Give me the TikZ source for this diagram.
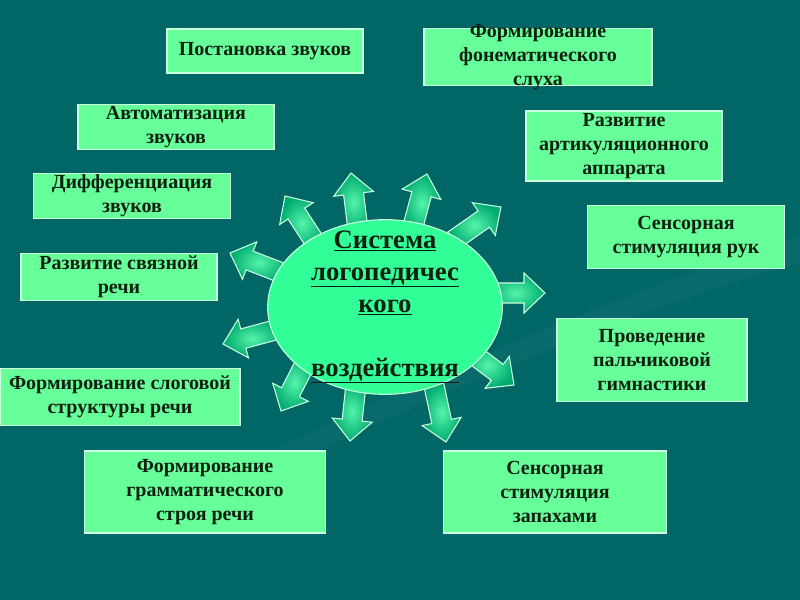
\documentclass[tikz,border=0pt]{standalone}
\usepackage{fontspec}
\setmainfont{Liberation Serif}
\usetikzlibrary{shapes.geometric}

\definecolor{bgteal}{HTML}{006666}
\definecolor{boxgreen}{HTML}{66FF99}
\definecolor{hubgreen}{HTML}{33FF99}
\definecolor{rimgreen}{HTML}{CCFFDD}
\definecolor{inkdark}{HTML}{102010}
\definecolor{arrowlight}{HTML}{55F5AA}
\definecolor{arrowdark}{HTML}{00AA70}

\tikzset{
  box/.style={draw=rimgreen, line width=0.8pt, fill=boxgreen, align=center,
    inner xsep=2pt, inner ysep=1pt, text=inkdark,
    font=\bfseries\fontsize{15}{18}\selectfont},
  boxsize/.style 2 args={minimum width=#1*0.75pt, minimum height=#2*0.75pt},
  hub/.style={ellipse, draw=rimgreen, line width=0.8pt, fill=hubgreen,
    minimum width=176pt, minimum height=131pt, inner sep=0pt},
  hubtext/.style={align=center, text=inkdark,
    font=\bfseries\fontsize{20}{24}\selectfont},
  blockarrow/.style={draw=rimgreen, line width=0.8pt, shading=radial,
    inner color=arrowlight, outer color=arrowdark},
}

\begin{document}
\begin{tikzpicture}[x=0.75pt, y=-0.75pt]
\useasboundingbox (0,0) rectangle (800,600);
\fill[bgteal] (0,0) rectangle (800,600);
% faint sweep in the background
\fill[white, opacity=0.035] (230,470) .. controls (420,380) and (600,300) .. (800,235)
  -- (800,262) .. controls (600,320) and (430,400) .. (250,480) -- cycle;

% block arrows round the hub
\foreach \tx/\ty/\ang in {285/196/123, 351/173/97, 427/174/75, 501/207/35,
    545/293/0, 514/385/-37, 446/442/-78, 350/441/-96, 281/411/-117,
    223/344/195, 230/253/159}
  \draw[blockarrow, shift={(\tx,\ty)}, rotate=\ang]
    (0,0) -- (-21,20) -- (-21,10) -- (-58,10) -- (-58,-10) -- (-21,-10) -- (-21,-20) -- cycle;

\node[hub] (hub) at (385,307) {};
\node[hubtext] (hubtxt) at (hub) {\underline{Система}\\\underline{логопедичес}\\
  \underline{кого}\\[24pt]\underline{воздействия}};

% left column
\node[box, boxsize={196}{44}] (post) at (265,51) {Постановка звуков};
\node[box, boxsize={196}{45}] (avto) at (176,127) {Автоматизация\\звуков};
\node[box, boxsize={197}{45}] (diff) at (132,196) {Дифференциация\\звуков};
\node[box, boxsize={196}{47}] (svyaz) at (119,277) {Развитие связной\\речи};
\node[box, boxsize={240}{57}] (slog) at (120,397) {Формирование слоговой\\структуры речи};
\node[box, boxsize={241}{82}] (gramm) at (205,492) {Формирование\\грамматического\\строя речи};

% right column
\node[box, boxsize={228}{57}, inner ysep=-5pt] (fonem) at (538,57) {Формирование\\фонематического\\слуха};
\node[box, boxsize={196}{70}] (artik) at (624,146) {Развитие\\артикуляционного\\аппарата};
\node[box, boxsize={197}{63}] (ruki) at (686,237) {Сенсорная\\стимуляция рук};
\node[box, boxsize={190}{83}] (palch) at (652,360) {Проведение\\пальчиковой\\гимнастики};
\node[box, boxsize={223}{82}] (zapah) at (555,492) {Сенсорная\\стимуляция\\запахами};
\end{tikzpicture}
\end{document}
